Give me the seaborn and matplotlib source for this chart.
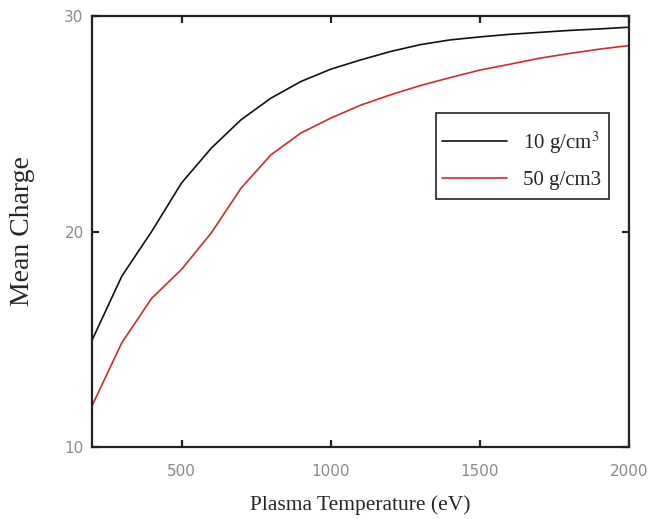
import numpy as np
import pandas as pd
import matplotlib
matplotlib.use("Agg")
import matplotlib.pyplot as plt
from matplotlib.patches import Rectangle
import seaborn as sns

# Mean ionisation charge versus plasma temperature for two densities
temperature = [200, 300, 400, 500, 600, 700, 800, 900, 1000, 1100,
               1200, 1300, 1400, 1500, 1600, 1700, 1800, 1900, 2000]
charge_10 = [14.95, 17.93, 20.0, 22.25, 23.87, 25.19, 26.19, 26.96, 27.53, 27.96,
             28.35, 28.67, 28.89, 29.03, 29.15, 29.24, 29.33, 29.40, 29.48]
charge_50 = [11.91, 14.84, 16.9, 18.24, 19.94, 22.02, 23.56, 24.57, 25.26, 25.86,
             26.34, 26.77, 27.14, 27.49, 27.76, 28.04, 28.26, 28.46, 28.63]
series_labels = ["10 g/cm$^{3}$", "50 g/cm3"]
x_ticks = [500, 1000, 1500, 2000]
y_ticks = [10, 20, 30]

df = pd.DataFrame({
    "Plasma Temperature (eV)": temperature * 2,
    "Mean Charge": charge_10 + charge_50,
    "density": [series_labels[0]] * len(temperature) + [series_labels[1]] * len(temperature),
})

sns.set_style("ticks")
plt.rcParams["font.family"] = ["DejaVu Sans"]
plt.rcParams["mathtext.fontset"] = "stix"

fig = plt.figure(figsize=(6.5, 5.19), dpi=100)
ax = fig.add_axes([92 / 650, 72 / 519, 537 / 650, 431 / 519])

sns.lineplot(data=df, x="Plasma Temperature (eV)", y="Mean Charge", hue="density",
             palette=["#111111", "#d42a2a"], linewidth=1.2, ax=ax)

ax.set_xlim(200, 2000)
ax.set_ylim(10, 30)
ax.set_xticks(x_ticks)
ax.set_yticks(y_ticks)

for side in ["left", "right", "top", "bottom"]:
    ax.spines[side].set_visible(True)
    ax.spines[side].set_linewidth(1.6)
    ax.spines[side].set_color("#222222")

ax.tick_params(axis="both", direction="in", length=5, width=1.6, color="#222222",
               labelsize=11, labelcolor="#8a8a8a", top=True, right=True, pad=6)
ax.tick_params(axis="x", pad=12)

serif = ["Liberation Serif", "DejaVu Serif"]
ax.set_xlabel("Plasma Temperature (eV)", fontsize=15.5, family=serif, labelpad=12)
ax.set_ylabel("Mean Charge", fontsize=20, family=serif, labelpad=21)

# Legend entries without their own frame; a roomier box is drawn around them
leg = ax.legend(loc="center left", bbox_to_anchor=(0.652, 0.667),
                borderaxespad=0, frameon=False, prop={"family": serif, "size": 15},
                handlelength=3.1, handletextpad=0.8, labelspacing=0.7, borderpad=0)
ax.add_patch(Rectangle((0.6406, 0.5754), 0.9628 - 0.6406, 0.775 - 0.5754,
                       transform=ax.transAxes, fill=False, edgecolor="#222222",
                       linewidth=1.2, zorder=5))

fig.savefig("out.png", dpi=100)
